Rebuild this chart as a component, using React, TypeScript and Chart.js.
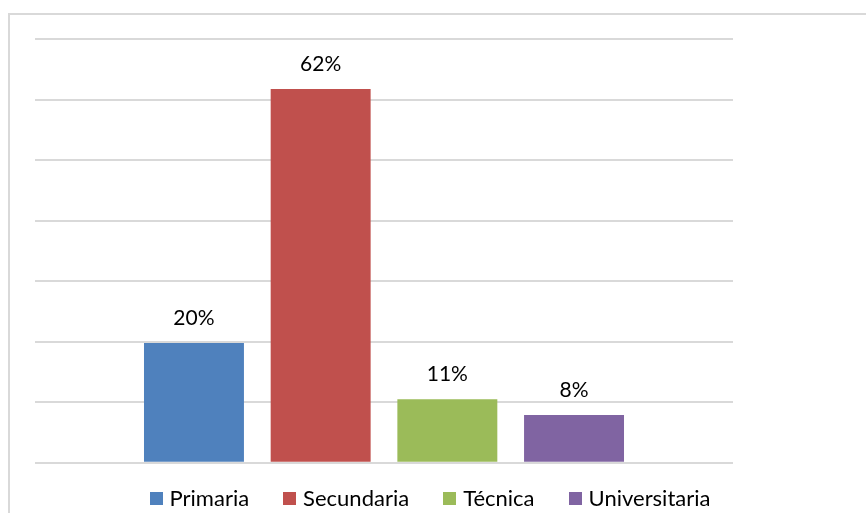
import React, { useEffect, useRef } from "react";
import { Chart, registerables } from "chart.js";

Chart.register(...registerables);

const categories: string[] = [""];
const seriesNames: string[] = ["Primaria", "Secundaria", "Técnica", "Universitaria"];
const seriesValues: number[] = [19.8, 61.8, 10.5, 7.9];
const seriesLabels: string[] = ["20%", "62%", "11%", "8%"];
const seriesColors: string[] = ["#4F81BD", "#C0504D", "#9BBB59", "#8064A2"];
const yTicks: number[] = [0, 10, 20, 30, 40, 50, 60, 70];

const FONT = "Lato, 'Noto Sans', sans-serif";

const labelPlugin = {
  id: "barValueLabels",
  afterDatasetsDraw(chart: any) {
    const ctx = chart.ctx;
    ctx.save();
    ctx.font = `21px ${FONT}`;
    ctx.fillStyle = "#000000";
    ctx.textAlign = "center";
    ctx.textBaseline = "alphabetic";
    chart.data.datasets.forEach((ds: any, i: number) => {
      const meta = chart.getDatasetMeta(i);
      const el = meta.data[0];
      if (!el) return;
      ctx.fillText(seriesLabels[i], el.x, el.y - 18);
    });
    ctx.restore();
  },
};

export default function App() {
  const canvasRef = useRef<HTMLCanvasElement | null>(null);

  useEffect(() => {
    document.body.style.margin = "0";
    const canvas = canvasRef.current;
    if (!canvas) return;
    const chart = new Chart(canvas, {
      type: "bar",
      data: {
        labels: categories,
        datasets: seriesNames.map((name, i) => ({
          label: name,
          data: [seriesValues[i]],
          backgroundColor: seriesColors[i],
          borderWidth: 0,
          categoryPercentage: 0.726,
          barPercentage: 0.789,
        })),
      },
      options: {
        responsive: false,
        animation: false,
        devicePixelRatio: 1,
        layout: {
          padding: { left: 35, right: 133, top: 39.3, bottom: 50.3 },
        },
        plugins: {
          legend: { display: false },
          tooltip: { enabled: false },
        },
        scales: {
          x: {
            display: false,
          },
          y: {
            min: yTicks[0],
            max: yTicks[yTicks.length - 1],
            afterBuildTicks: (scale: any) => {
              scale.ticks = yTicks.map((v) => ({ value: v }));
            },
            ticks: { display: false, stepSize: 10 },
            grid: {
              color: "#d9d9d9",
              lineWidth: 2,
              drawTicks: false,
            },
            border: { display: false },
          },
        },
      },
      plugins: [labelPlugin],
    });
    return () => chart.destroy();
  }, []);

  return (
    <div
      style={{
        position: "fixed",
        left: 0,
        top: 0,
        width: 866,
        height: 513,
        overflow: "hidden",
        background: "#ffffff",
      }}
    >
      <div
        style={{
          position: "absolute",
          left: 8,
          top: 13,
          width: 1000,
          height: 700,
          border: "2px solid #d9d9d9",
          boxSizing: "border-box",
        }}
      />
      <canvas
        ref={canvasRef}
        width={866}
        height={513}
        style={{ position: "absolute", left: 0, top: 0, width: 866, height: 513 }}
      />
      <div
        style={{
          position: "absolute",
          left: 0,
          top: 486,
          width: 860,
          height: 24,
          display: "flex",
          justifyContent: "center",
          alignItems: "center",
          fontFamily: FONT,
          fontSize: 22,
          lineHeight: "24px",
          color: "#000000",
          whiteSpace: "nowrap",
        }}
      >
        {seriesNames.map((name, i) => (
          <div
            key={name}
            style={{
              display: "flex",
              alignItems: "center",
              marginLeft: i === 0 ? 0 : 34,
            }}
          >
            <span
              style={{
                display: "inline-block",
                width: 13,
                height: 13,
                background: seriesColors[i],
                marginRight: 7,
              }}
            />
            <span>{name}</span>
          </div>
        ))}
      </div>
    </div>
  );
}
